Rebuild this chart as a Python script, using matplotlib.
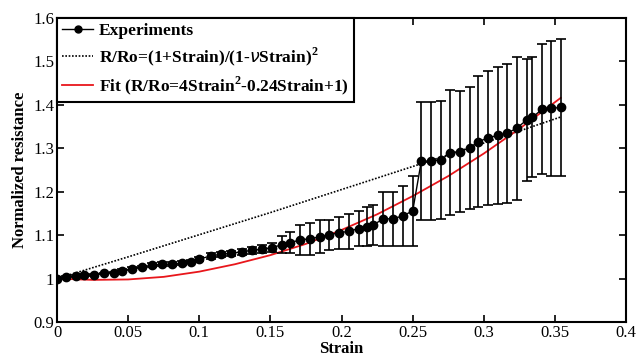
# Normalized resistance vs strain, experiments + model + fit
import numpy as np
import matplotlib.pyplot as plt
from matplotlib.lines import Line2D
from matplotlib.ticker import FuncFormatter

plt.rcParams['font.family'] = ['Liberation Serif', 'DejaVu Serif']
plt.rcParams['mathtext.fontset'] = 'custom'
plt.rcParams['mathtext.rm'] = 'Liberation Serif'
plt.rcParams['mathtext.bf'] = 'Liberation Serif:bold'

strain = [0, 0.006, 0.013, 0.019, 0.026, 0.033, 0.040, 0.046, 0.053, 0.060,
          0.067, 0.074, 0.081, 0.088, 0.094, 0.100, 0.108, 0.115, 0.122, 0.130,
          0.137, 0.144, 0.151, 0.158, 0.164, 0.171, 0.178, 0.185, 0.191, 0.198,
          0.205, 0.212, 0.218, 0.222, 0.229, 0.236, 0.243, 0.250, 0.256, 0.263,
          0.270, 0.276, 0.283, 0.290, 0.296, 0.303, 0.310, 0.316, 0.323, 0.330,
          0.334, 0.341, 0.347, 0.354]
resist = [1.000, 1.003, 1.006, 1.008, 1.009, 1.012, 1.014, 1.018, 1.023, 1.027,
          1.031, 1.033, 1.033, 1.036, 1.039, 1.045, 1.052, 1.056, 1.058, 1.062,
          1.065, 1.068, 1.071, 1.078, 1.083, 1.089, 1.092, 1.096, 1.101, 1.105,
          1.109, 1.115, 1.119, 1.123, 1.137, 1.138, 1.144, 1.156, 1.270, 1.271,
          1.273, 1.290, 1.292, 1.301, 1.315, 1.324, 1.330, 1.334, 1.346, 1.365,
          1.371, 1.390, 1.392, 1.394]
err = [0.001, 0.002, 0.002, 0.002, 0.002, 0.002, 0.002, 0.003, 0.003, 0.003,
       0.004, 0.005, 0.005, 0.004, 0.004, 0.005, 0.006, 0.006, 0.006, 0.007,
       0.008, 0.009, 0.010, 0.020, 0.025, 0.034, 0.037, 0.038, 0.035, 0.036,
       0.040, 0.041, 0.045, 0.046, 0.062, 0.062, 0.068, 0.080, 0.136, 0.136,
       0.136, 0.143, 0.139, 0.140, 0.151, 0.155, 0.158, 0.160, 0.164, 0.141,
       0.138, 0.150, 0.155, 0.157]

# model curve R/Ro=(1+Strain)/(1-vStrain)^2
model_x = [0, 0.05, 0.1, 0.15, 0.2, 0.25, 0.3, 0.354]
model_y = [1.000, 1.050, 1.101, 1.152, 1.205, 1.258, 1.312, 1.372]

# fitted curve
fit_x = [0, 0.025, 0.05, 0.075, 0.1, 0.125, 0.15, 0.175, 0.2, 0.225,
         0.25, 0.275, 0.3, 0.325, 0.354]
fit_y = [1.000, 0.997, 0.998, 1.004, 1.016, 1.033, 1.054, 1.080, 1.112, 1.148,
         1.190, 1.236, 1.288, 1.345, 1.416]

fig = plt.figure(figsize=(6.37, 3.59), dpi=100)
ax = fig.add_axes([0.0895, 0.103, 0.8935, 0.847])

ax.errorbar(strain, resist, yerr=err, color='black', lw=1.0, marker='o',
            markersize=6, elinewidth=1.2, capsize=3.5, capthick=1.2, zorder=3)
ax.plot(model_x, model_y, color='black', ls=(0, (1, 1)), lw=1.2)
ax.plot(fit_x, fit_y, color='#e8161b', lw=1.3)

# legend handles (line + marker only, no error bar in the key)
handles = [
    Line2D([], [], color='black', lw=1.0, marker='o', markersize=5),
    Line2D([], [], color='black', ls=(0, (1, 1)), lw=1.2),
    Line2D([], [], color='#e8161b', lw=1.3),
]
labels = ['Experiments',
          r'R/Ro=(1+Strain)/(1-$\nu$Strain)$^{\mathbf{2}}$',
          r'Fit (R/Ro=4Strain$^{\mathbf{2}}$-0.24Strain+1)']

ax.set_xlim(0, 0.4)
ax.set_ylim(0.9, 1.6)
ax.set_xticks(np.arange(0, 0.41, 0.05))
ax.set_yticks(np.arange(0.9, 1.61, 0.1))
ax.xaxis.set_major_formatter(FuncFormatter(lambda v, p: '%g' % round(v, 3)))
ax.yaxis.set_major_formatter(FuncFormatter(lambda v, p: '%g' % round(v, 3)))
ax.tick_params(direction='in', top=True, right=True, length=5, width=1.2,
               labelsize=12, pad=2)
for s in ax.spines.values():
    s.set_linewidth(1.5)

ax.set_xlabel('Strain', fontsize=12, fontweight='bold', labelpad=0)
ax.set_ylabel('Normalized resistance', fontsize=12, fontweight='bold', labelpad=4)

leg = ax.legend(handles, labels, loc='upper left', borderaxespad=0, fancybox=False,
                prop={'weight': 'bold', 'size': 12.5}, handlelength=1.8,
                handletextpad=0.3, labelspacing=0.35, borderpad=0.3)
leg.get_frame().set_edgecolor('black')
leg.get_frame().set_linewidth(1.5)
leg.get_frame().set_alpha(1)

plt.savefig('out.png', dpi=100)
